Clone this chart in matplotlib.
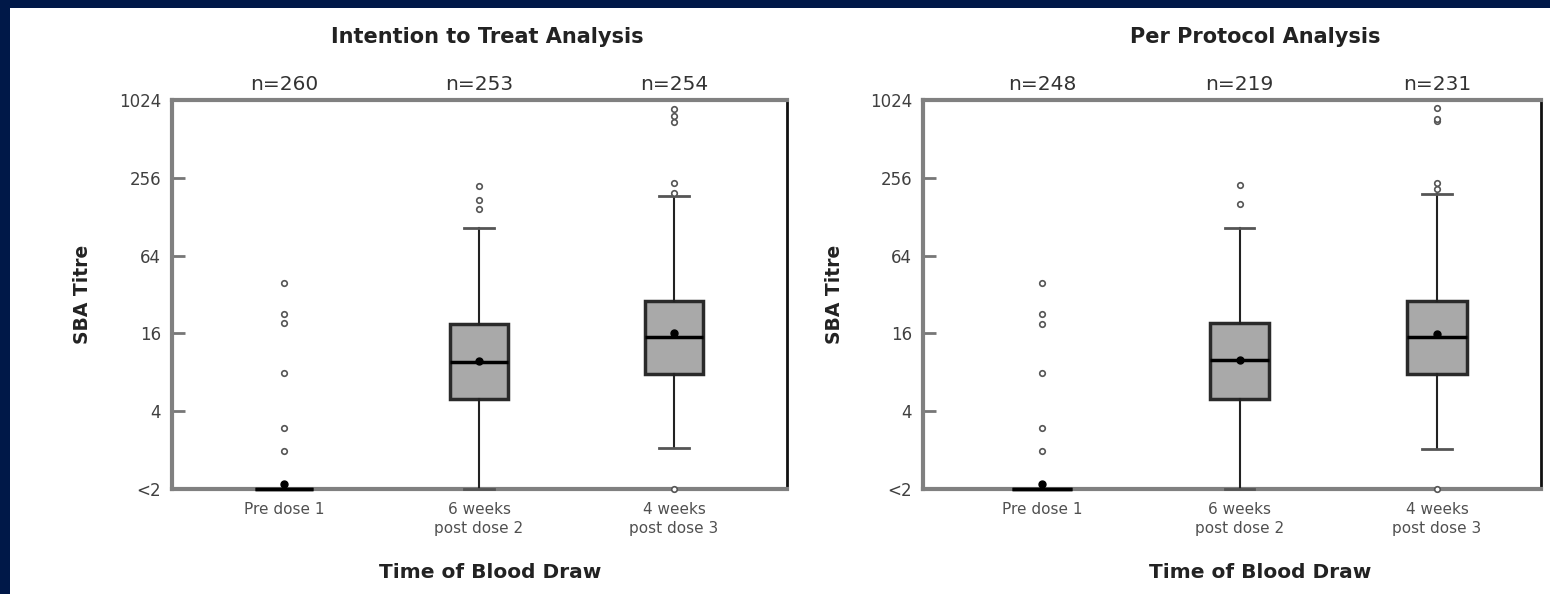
import numpy as np
import matplotlib
matplotlib.use('Agg')
import matplotlib.pyplot as plt
from matplotlib.patches import Rectangle

# === Data ===
groups = ['Pre dose 1', '6 weeks\npost dose 2', '4 weeks\npost dose 3']
ytick_vals = [1, 4, 16, 64, 256, 1024]
ytick_labels = ['<2', '4', '16', '64', '256', '1024']

itt_n = ['n=260', 'n=253', 'n=254']
itt_q1 = [1, 4.96, 7.7]
itt_med = [1, 9.6, 14.9]
itt_q3 = [1, 18.8, 28.3]
itt_whislo = [1, 1, 2.07]
itt_whishi = [1, 105, 186]
itt_mean = [1.09, 9.8, 16.0]
itt_fliers = [[1.96, 2.95, 7.9, 19.1, 22.8, 39],
              [147, 173, 222],
              [1, 196, 235, 689, 770, 874]]

pp_n = ['n=248', 'n=219', 'n=231']
pp_q1 = [1, 4.96, 7.7]
pp_med = [1, 9.9, 14.9]
pp_q3 = [1, 19.1, 28.3]
pp_whislo = [1, 1, 2.04]
pp_whishi = [1, 105, 192]
pp_mean = [1.09, 9.9, 15.7]
pp_fliers = [[1.96, 2.95, 7.9, 18.8, 22.8, 39],
             [161, 226],
             [1, 210, 235, 700, 733, 888]]

NAVY = '#001848'
W, H = 1550, 594

fig = plt.figure(figsize=(W / 100, H / 100), dpi=100, facecolor=NAVY)
fig.patches.append(Rectangle((10 / W, 0), 1, 1 - 8 / H, transform=fig.transFigure,
                             facecolor='white', edgecolor='none', zorder=-10))


def panel(rect, xlim, n_labels, q1, med, q3, wlo, whi, mean, fliers):
    ax = fig.add_axes(rect)
    stats = []
    for i in range(3):
        stats.append(dict(q1=q1[i], med=med[i], q3=q3[i], whislo=wlo[i], whishi=whi[i],
                          mean=mean[i], fliers=fliers[i]))
    art = ax.bxp(stats, positions=[1, 2, 3], widths=0.3, patch_artist=True, showmeans=True,
                 boxprops=dict(facecolor='#a9a9a9', edgecolor='#2a2a2a', linewidth=2.5),
                 medianprops=dict(color='black', linewidth=2.5),
                 whiskerprops=dict(color='#222222', linewidth=1.5),
                 capprops=dict(color='#555555', linewidth=2),
                 meanprops=dict(marker='o', markerfacecolor='black', markeredgecolor='black',
                                markersize=5),
                 flierprops=dict(marker='o', markerfacecolor='white', markeredgecolor='#555555',
                                 markersize=4, markeredgewidth=1.2))
    for key in art:
        for a in art[key]:
            a.set_clip_on(False)
            a.set_zorder(5)
    ax.set_yscale('log', base=2)
    ax.set_ylim(1, 1024)
    ax.set_xlim(*xlim)
    ax.set_yticks(ytick_vals)
    ax.set_yticklabels(ytick_labels)
    ax.minorticks_off()
    ax.set_xticks([1, 2, 3])
    ax.set_xticklabels(groups, fontsize=11, color='#505050', linespacing=1.35)
    ax.tick_params(axis='x', length=0, pad=9)
    ax.tick_params(axis='y', direction='in', length=9, width=2, color='#777777',
                   labelsize=12, labelcolor='#404040', pad=8)
    for s in ['left', 'top', 'bottom']:
        ax.spines[s].set_color('#808080')
        ax.spines[s].set_linewidth(3)
    ax.spines['right'].set_color('#111111')
    ax.spines['right'].set_linewidth(2)
    for i, lab in enumerate(n_labels):
        ax.text(i + 1, 1.0 + 15 / 389, lab, transform=ax.get_xaxis_transform(),
                ha='center', va='center', fontsize=14.5, color='#333333')
    return ax


top = 1 - 100 / H
bot = 1 - 489 / H
ax1 = panel([172 / W, bot, (787 - 172) / W, top - bot], (0.426, 3.579), itt_n,
            itt_q1, itt_med, itt_q3, itt_whislo, itt_whishi, itt_mean, itt_fliers)
ax2 = panel([923 / W, bot, (1541 - 923) / W, top - bot], (0.397, 3.527), pp_n,
            pp_q1, pp_med, pp_q3, pp_whislo, pp_whishi, pp_mean, pp_fliers)

# titles and axis labels
fig.text(487 / W, 1 - 37 / H, 'Intention to Treat Analysis', ha='center', va='center',
         fontsize=15, fontweight='bold', color='#222222')
fig.text(1255 / W, 1 - 37 / H, 'Per Protocol Analysis', ha='center', va='center',
         fontsize=15, fontweight='bold', color='#222222')
fig.text(82 / W, 1 - 294 / H, 'SBA Titre', rotation=90, ha='center', va='center',
         fontsize=13.5, fontweight='bold', color='#222222')
fig.text(835 / W, 1 - 294 / H, 'SBA Titre', rotation=90, ha='center', va='center',
         fontsize=13.5, fontweight='bold', color='#222222')
fig.text(490 / W, 1 - 573 / H, 'Time of Blood Draw', ha='center', va='center',
         fontsize=14.5, fontweight='bold', color='#222222')
fig.text(1260 / W, 1 - 573 / H, 'Time of Blood Draw', ha='center', va='center',
         fontsize=14.5, fontweight='bold', color='#222222')

fig.savefig('out.png', dpi=100, facecolor=NAVY)
